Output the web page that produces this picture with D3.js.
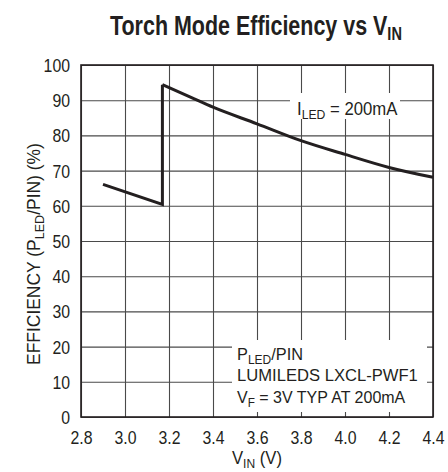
<!DOCTYPE html>
<html><head><meta charset="utf-8">
<script src="https://cdn.jsdelivr.net/npm/d3@7"></script>
<style>
body{margin:0;background:#fff;}
svg{display:block;}
text{font-family:"Liberation Sans","Arial",sans-serif;fill:#231f20;}
</style></head><body>
<svg id="c" width="448" height="472"></svg>
<script>
// Data
const lowV = [2.9, 3.17, 3.17];
const lowE = [66.1, 60.4, 94.4];
const highV = [3.17, 3.3, 3.4, 3.6, 3.8, 4.0, 4.2, 4.4];
const highE = [94.4, 90.8, 88.0, 83.3, 78.5, 74.6, 70.9, 68.1];
const xTicks = [2.8, 3.0, 3.2, 3.4, 3.6, 3.8, 4.0, 4.2, 4.4];
const yTicks = [0, 10, 20, 30, 40, 50, 60, 70, 80, 90, 100];

const svg = d3.select("#c");
const m = {l:81, r:433, t:65, b:417};
const x = d3.scaleLinear().domain([2.8, 4.4]).range([m.l, m.r]);
const y = d3.scaleLinear().domain([0, 100]).range([m.b, m.t]);
const W = m.r - m.l, H = m.b - m.t;
const SX = 0.88;

// grid + axes
const gx = svg.append("g").attr("transform", `translate(0,${m.b})`)
  .call(d3.axisBottom(x).tickValues(xTicks).tickSize(-H).tickPadding(14).tickFormat(d3.format(".1f")));
const gy = svg.append("g").attr("transform", `translate(${m.l},0)`)
  .call(d3.axisLeft(y).tickValues(yTicks).tickSize(-W).tickPadding(11).tickFormat(d3.format("d")));
[gx, gy].forEach(g => {
  g.select(".domain").remove();
  g.selectAll(".tick line").attr("stroke", "#4a4a4a").attr("stroke-width", 1.1);
  g.selectAll(".tick text").attr("font-size", 18).attr("fill", "#231f20")
    .style("font-family", '"Liberation Sans",sans-serif');
});
gx.selectAll(".tick text").attr("transform", `scale(${SX},1)`);
gy.selectAll(".tick text").attr("dy", "0.36em").attr("x", -11 / SX).attr("transform", `scale(${SX},1)`);

// label backgrounds
svg.append("rect").attr("x", 290).attr("y", 93).attr("width", 110).attr("height", 26).attr("fill", "#fff");
svg.append("rect").attr("x", 232).attr("y", 340).attr("width", 195).attr("height", 72).attr("fill", "#fff");

// border
svg.append("rect").attr("x", m.l).attr("y", m.t).attr("width", W).attr("height", H)
  .attr("fill", "none").attr("stroke", "#231f20").attr("stroke-width", 1.6);

// curves
const lineLow = d3.line().x((d,i)=>x(lowV[i])).y((d,i)=>y(lowE[i])).curve(d3.curveLinear);
const lineHigh = d3.line().x((d,i)=>x(highV[i])).y((d,i)=>y(highE[i])).curve(d3.curveMonotoneX);
svg.append("path").attr("d", lineLow(lowV)).attr("fill","none").attr("stroke","#231f20")
  .attr("stroke-width",3).attr("stroke-linejoin","miter");
svg.append("path").attr("d", lineHigh(highV)).attr("fill","none").attr("stroke","#231f20")
  .attr("stroke-width",3);

// helper: build text at origin, then squeeze horizontally to a target width
function fitText(parts, opts) {
  const g = svg.append("g");
  const t = g.append("text").attr("font-size", opts.size).attr("font-weight", opts.weight || "normal");
  parts.forEach(p => {
    const s = t.append("tspan").text(p.t);
    if (p.sub) s.attr("font-size", opts.subSize).attr("dy", opts.subDy);
    if (p.back) s.attr("dy", -opts.subDy);
  });
  const w = t.node().getBBox().width;
  const k = opts.width / w;
  let x0 = opts.x;
  if (opts.anchor === "middle") x0 = opts.x - opts.width / 2;
  if (opts.rotate) {
    g.attr("transform", `translate(${opts.x},${opts.y}) rotate(-90) translate(${-opts.width/2},0) scale(${k},1)`);
  } else {
    g.attr("transform", `translate(${x0},${opts.y}) scale(${k},1)`);
  }
  return g;
}

// title
fitText([{t:"Torch Mode Efficiency vs V"},{t:"IN",sub:true}],
  {x:110, y:35, width:292, size:28, weight:"bold", subSize:19, subDy:5});

// I_LED label
fitText([{t:"I"},{t:"LED",sub:true},{t:" = 200mA",back:true}],
  {x:297, y:114.5, width:101, size:18.5, subSize:13.5, subDy:4});

// note box
fitText([{t:"P"},{t:"LED",sub:true},{t:"/PIN",back:true}],
  {x:237, y:360, width:66, size:17, subSize:12.5, subDy:4});
fitText([{t:"LUMILEDS LXCL-PWF1"}],
  {x:237, y:381, width:181, size:17});
fitText([{t:"V"},{t:"F",sub:true},{t:" = 3V TYP AT 200mA",back:true}],
  {x:237, y:403, width:169, size:17, subSize:12.5, subDy:4});

// x axis title
fitText([{t:"V"},{t:"IN",sub:true},{t:" (V)",back:true}],
  {x:257, y:464, width:50, size:18, subSize:13, subDy:3.5, anchor:"middle"});

// y axis title
fitText([{t:"EFFICIENCY (P"},{t:"LED",sub:true},{t:"/PIN) (%)",back:true}],
  {x:40, y:254, width:222, size:18, subSize:13, subDy:4, rotate:true});
</script>
</body></html>
